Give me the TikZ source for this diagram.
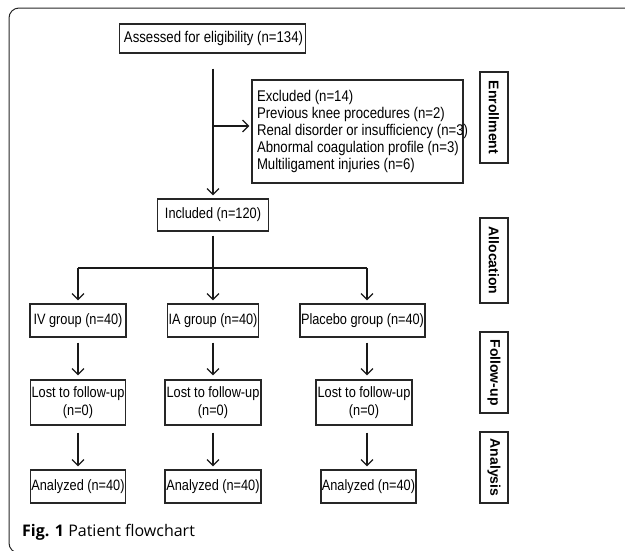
\documentclass[tikz,border=0pt]{standalone}
\usepackage{fontspec}
\setmainfont[FakeStretch=0.85]{Liberation Sans}
\newfontfamily\lblfont{Liberation Sans}
\newfontfamily\capfont{Open Sans}
\usetikzlibrary{arrows.meta}
\begin{document}
\begin{tikzpicture}[x=1pt,y=-1pt,
  box/.style={draw=black!85, line width=1.1pt, inner sep=0pt, align=center,
    font=\fontsize{15}{17}\selectfont},
  lostbox/.style={box, font=\fontsize{15}{18}\selectfont, minimum width=96pt, minimum height=45pt},
  side/.style={draw=black!85, line width=1.1pt, rotate=-90, inner sep=0pt,
    font=\lblfont\bfseries\fontsize{14}{16}\selectfont, minimum height=28pt},
  conn/.style={line width=1.3pt, draw=black!90},
  arr/.style={conn, -{Straight Barb[length=6pt,width=12pt,line width=1.3pt]}}]
\useasboundingbox (0,0) rectangle (625,550);
% frame
\draw[line width=1pt, draw=black!85, rounded corners=10pt] (640,8) -- (9,8) -- (9,553) -- (640,553);

% nodes
\node[box, font=\fontsize{15.5}{17}\selectfont, minimum width=186pt, minimum height=29pt] (assess) at (212.5,38.5)
  {\makebox[170pt]{\hspace{2pt}Assessed for eligibility (n=134)}};
\node[box, font=\fontsize{15.5}{17.2}\selectfont, minimum width=211pt, minimum height=103pt] (excl) at (357.5,131.5)
  {\parbox{201pt}{\makebox[201pt][l]{Excluded (n=14)}\\\makebox[201pt][l]{Previous knee procedures (n=2)}\\\makebox[201pt][l]{Renal disorder or insufficiency (n=3)}\\\makebox[201pt][l]{Abnormal coagulation profile (n=3)}\\\makebox[201pt][l]{Multiligament injuries (n=6)}}};
\node[box, minimum width=111pt, minimum height=32pt] (incl) at (213,215) {Included (n=120)};

\node[box, minimum width=96pt, minimum height=33pt] (iv) at (78,320.5) {IV group (n=40)};
\node[box, minimum width=91pt, minimum height=33pt] (ia) at (213,320.5) {IA group (n=40)};
\node[box, minimum width=125pt, minimum height=33pt] (plac) at (362.5,320.5) {Placebo group (n=40)};

\node[lostbox, minimum width=95pt] (lost1) at (78,402.5) {Lost to follow-up\\(n=0)};
\node[lostbox] (lost2) at (213,402.5) {Lost to follow-up\\(n=0)};
\node[lostbox] (lost3) at (364,402.5) {Lost to follow-up\\(n=0)};

\node[box, minimum width=95pt, minimum height=33pt] (an1) at (78,486.5) {Analyzed (n=40)};
\node[box, minimum width=96pt, minimum height=33pt] (an2) at (213,486.5) {Analyzed (n=40)};
\node[box, minimum width=95pt, minimum height=33pt] (an3) at (368.5,486.5) {Analyzed (n=40)};

% side labels
\node[side, minimum width=91pt] (enr) at (494,117.5) {Enrollment};
\node[side, minimum width=85pt] (alloc) at (494,260.5) {Allocation};
\node[side, minimum width=81pt] (fu) at (494,372.5) {Follow-up};
\node[side, minimum width=71pt] (ana) at (494,467.5) {Analysis};

% caption
\node[anchor=base west, inner sep=0pt, font=\capfont\fontsize{16}{19}\selectfont] (cap) at (22,536)
  {\textbf{Fig. 1} Patient flowchart};

% connectors
\coordinate (j1) at (213,126);
\coordinate (j2) at (213,268);
\coordinate (b1) at (78,268);
\coordinate (b3) at (367,268);

\draw[arr, shorten <=15pt, shorten >=3pt] (assess.south -| j1) -- (incl.north);
\draw[arr, shorten >=2pt] (j1) -- (excl.west |- j1);
\draw[conn, shorten <=4pt] (incl.south) -- (j2);
\draw[conn] (b1) -- (b3);
\draw[arr, shorten >=3pt] (b1) -- (iv.north);
\draw[arr, shorten >=3pt] (j2) -- (ia.north);
\draw[arr, shorten >=3pt] (b3) -- (plac.north -| b3);

\draw[arr, shorten <=5pt, shorten >=4pt] (iv.south) -- (lost1.north);
\draw[arr, shorten <=5pt, shorten >=4pt] (ia.south) -- (lost2.north);
\draw[arr, shorten <=5pt, shorten >=4pt] (plac.south -| b3) -- (lost3.north -| b3);

\draw[arr, shorten <=7pt, shorten >=3pt] (lost1.south) -- (an1.north);
\draw[arr, shorten <=7pt, shorten >=3pt] (lost2.south) -- (an2.north);
\draw[arr, shorten <=7pt, shorten >=3pt] (lost3.south -| b3) -- (an3.north -| b3);
\end{tikzpicture}
\end{document}
